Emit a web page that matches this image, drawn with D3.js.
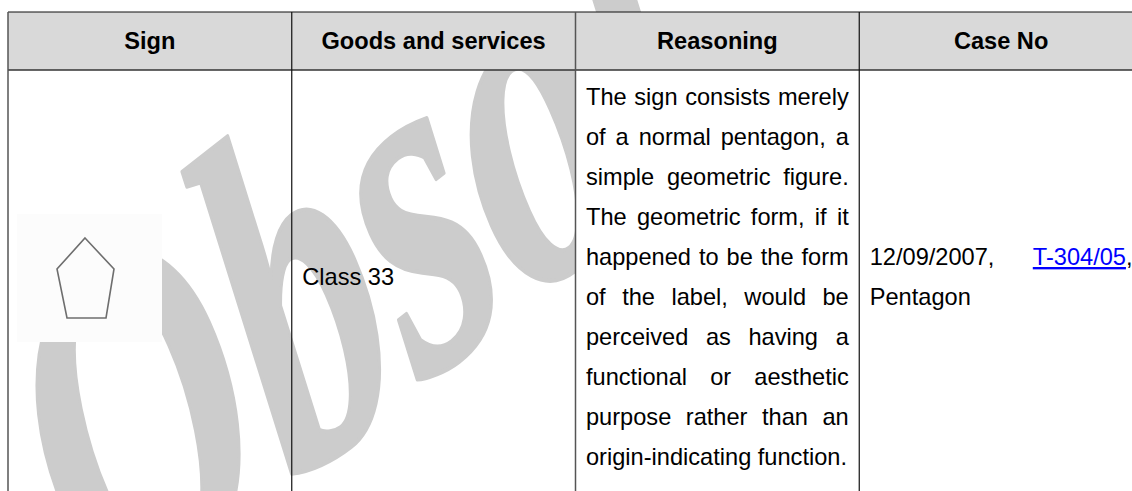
<!DOCTYPE html>
<html>
<head>
<meta charset="utf-8">
<script src="https://cdn.jsdelivr.net/npm/d3@7"></script>
<style>
  body { margin: 0; background: #fff; }
  svg { display: block; font-family: "Liberation Sans", Arial, sans-serif; }
</style>
</head>
<body>
<div id="chart"></div>
<script>
var width = 1132;
var height = 491;

// table content
var columns = ["Sign", "Goods and services", "Reasoning", "Case No"];
var goodsLines = ["Class 33"];
var reasoningLines = [
    "The sign consists merely",
    "of a normal pentagon, a",
    "simple geometric figure.",
    "The geometric form, if it",
    "happened to be the form",
    "of the label, would be",
    "perceived as having a",
    "functional or aesthetic",
    "purpose rather than an",
    "origin-indicating function."
];
var caseLines = [
    [[{ text: "12/09/2007," }], [{ text: "T-304/05", link: true }, { text: "," }]],
    [[{ text: "Pentagon" }]]
];
// sign picture: 145 x 128 px image, pentagon corner points in image pixels
var signSize = [145, 128];
var signPoints = [[68, 24], [97, 55], [89, 104], [50, 104], [40, 55]];
var watermark = "Obsolete";

var fontSize = 23.6;
var lineStep = 40;
var tableLeft = 8, tableRight = 1143;
var headTop = 12, headBottom = 70, rowBottom = 500;
var rowMid = 278;
var pad = 10.5;

var colX = d3.scaleBand().domain(columns).range([tableLeft, tableRight]);

var svg = d3.select("#chart")
    .append("svg")
    .attr("width", width)
    .attr("height", height);

// the watermark only shows over the first two columns and just above the table
svg.append("clipPath")
    .attr("id", "wm-clip")
    .append("path")
    .attr("d", "M0,0H644V" + headTop + "H" + colX("Reasoning") + "V" + height + "H0Z");

svg.append("g")
    .attr("clip-path", "url(#wm-clip)")
    .append("text")
    .attr("transform", "translate(106,632) rotate(-38) skewX(-14) scale(0.72,1)")
    .attr("font-family", "'Liberation Serif', serif")
    .attr("font-style", "italic")
    .attr("font-weight", "bold")
    .attr("font-size", 455)
    .attr("fill", "#cccccc")
    .attr("stroke", "#cccccc")
    .attr("stroke-width", 4)
    .attr("stroke-linejoin", "round")
    .text(watermark);

// header background
svg.append("rect")
    .attr("x", tableLeft)
    .attr("y", headTop)
    .attr("width", tableRight - tableLeft)
    .attr("height", headBottom - headTop)
    .attr("fill", "#d9d9d9");

// sign picture
var imgX = d3.scaleLinear().domain([0, signSize[0]]).range([colX("Sign") + 9, colX("Sign") + 9 + signSize[0]]);
var imgY = d3.scaleLinear().domain([0, signSize[1]]).range([rowMid - signSize[1] / 2, rowMid + signSize[1] / 2]);

svg.append("rect")
    .attr("x", imgX(0))
    .attr("y", imgY(0))
    .attr("width", imgX(signSize[0]) - imgX(0))
    .attr("height", imgY(signSize[1]) - imgY(0))
    .attr("fill", "#fcfcfc");

svg.append("path")
    .attr("d", d3.line().x(function(d) { return imgX(d[0]); }).y(function(d) { return imgY(d[1]); }).curve(d3.curveLinearClosed)(signPoints))
    .attr("fill", "none")
    .attr("stroke", "#6e6e6e")
    .attr("stroke-width", 1.6);

// borders
svg.append("line")
    .attr("x1", tableLeft).attr("x2", tableRight)
    .attr("y1", headTop).attr("y2", headTop)
    .attr("stroke", "#111").attr("stroke-width", 1.2);

svg.append("line")
    .attr("x1", tableLeft).attr("x2", tableRight)
    .attr("y1", headBottom).attr("y2", headBottom)
    .attr("stroke", "#333").attr("stroke-width", 1.4);

svg.selectAll(".vline")
    .data(columns.concat(["end"]))
    .enter().append("line")
    .attr("class", "vline")
    .attr("x1", function(d) { return d === "end" ? tableRight : colX(d); })
    .attr("x2", function(d) { return d === "end" ? tableRight : colX(d); })
    .attr("y1", headTop)
    .attr("y2", rowBottom)
    .attr("stroke", function(d, i) { return i % 2 === 0 ? "#555" : "#111"; })
    .attr("stroke-width", function(d, i) { return i % 2 === 0 ? 1.5 : 1.2; });

// header labels
svg.selectAll(".head")
    .data(columns)
    .enter().append("text")
    .attr("class", "head")
    .attr("x", function(d) { return colX(d) + colX.bandwidth() / 2; })
    .attr("y", 48.5)
    .attr("text-anchor", "middle")
    .attr("font-weight", "bold")
    .attr("font-size", fontSize)
    .attr("fill", "#000")
    .text(function(d) { return d; });

// one line of words, spread over the cell width when justified
function setLine(words, x0, w, y, justify) {
    var nodes = words.map(function(segs) {
        var t = svg.append("text")
            .attr("y", y)
            .attr("font-size", fontSize);
        segs.forEach(function(s) {
            t.append("tspan")
                .text(s.text)
                .attr("fill", s.link ? "#0000ff" : "#000")
                .style("text-decoration", s.link ? "underline" : null);
        });
        return t;
    });
    var lens = nodes.map(function(t) { return t.node().getComputedTextLength(); });
    var gap = (justify && words.length > 1) ? (w - d3.sum(lens)) / (words.length - 1) : fontSize * 0.278;
    var x = x0;
    nodes.forEach(function(t, i) {
        t.attr("x", x);
        x += lens[i] + gap;
    });
}

function firstBase(n) {
    return rowMid - (n - 1) / 2 * lineStep + 7;
}

goodsLines.forEach(function(l, i) {
    setLine([[{ text: l }]], colX("Goods and services") + pad, colX.bandwidth() - 2 * pad,
        firstBase(goodsLines.length) + i * lineStep, false);
});

reasoningLines.forEach(function(l, i) {
    var words = l.split(" ").map(function(w) { return [{ text: w }]; });
    setLine(words, colX("Reasoning") + pad, colX.bandwidth() - 2 * pad,
        firstBase(reasoningLines.length) + i * lineStep, i < reasoningLines.length - 1);
});

caseLines.forEach(function(words, i) {
    setLine(words, colX("Case No") + pad, colX.bandwidth() - 2 * pad,
        firstBase(caseLines.length) + i * lineStep, i < caseLines.length - 1);
});
</script>
</body>
</html>
